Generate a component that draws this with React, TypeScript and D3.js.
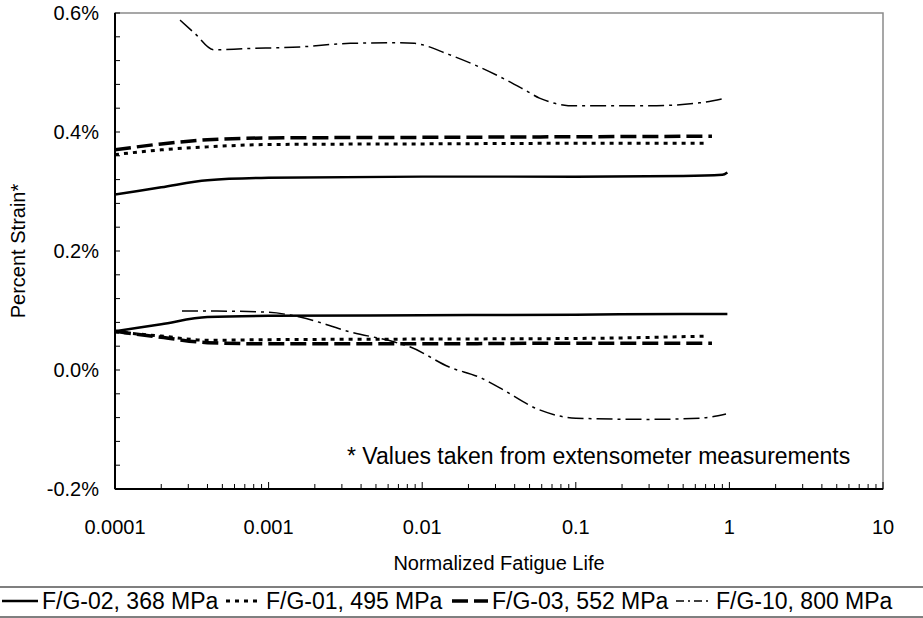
import React, { useEffect } from 'react';
import * as d3 from 'd3';

// ── Data (strain in %, life normalized) ────────────────────────────
const fg02Life = [0.0001, 0.0002, 0.0004, 0.001, 0.01, 0.1, 0.5, 0.9, 0.97];
const fg02Max = [0.295, 0.307, 0.319, 0.323, 0.325, 0.325, 0.326, 0.328, 0.332];
const fg02Min = [0.065, 0.077, 0.089, 0.091, 0.092, 0.093, 0.094, 0.094, 0.094];

const fg01Life = [0.0001, 0.0002, 0.0004, 0.001, 0.01, 0.1, 0.73];
const fg01Max = [0.362, 0.370, 0.375, 0.379, 0.380, 0.381, 0.381];
const fg01Min = [0.064, 0.057, 0.050, 0.051, 0.052, 0.053, 0.057];

const fg03Life = [0.0001, 0.0002, 0.0004, 0.001, 0.01, 0.1, 0.77];
const fg03Max = [0.370, 0.380, 0.387, 0.390, 0.391, 0.392, 0.393];
const fg03Min = [0.065, 0.055, 0.046, 0.044, 0.044, 0.045, 0.045];

const fg10MaxLife = [0.000265, 0.00033, 0.00044, 0.0007, 0.0016, 0.0034, 0.0072, 0.0089, 0.015, 0.032, 0.047, 0.058, 0.099, 0.3, 0.64, 0.95];
const fg10Max = [0.588, 0.566, 0.538, 0.540, 0.543, 0.549, 0.550, 0.549, 0.530, 0.493, 0.470, 0.457, 0.444, 0.444, 0.449, 0.457];
const fg10MinLife = [0.000273, 0.00044, 0.001, 0.0016, 0.0034, 0.0066, 0.0083, 0.015, 0.024, 0.032, 0.058, 0.1, 0.3, 0.64, 0.95];
const fg10Min = [0.099, 0.099, 0.097, 0.089, 0.064, 0.047, 0.039, 0.005, -0.013, -0.030, -0.067, -0.081, -0.083, -0.081, -0.074];

const xTicks = [0.0001, 0.001, 0.01, 0.1, 1, 10];
const xTickLabels = ['0.0001', '0.001', '0.01', '0.1', '1', '10'];
const yTicks = [-0.2, 0, 0.2, 0.4, 0.6];
const yTickLabels = ['-0.2%', '0.0%', '0.2%', '0.4%', '0.6%'];

const seriesNames = ['F/G-02, 368 MPa', 'F/G-01, 495 MPa', 'F/G-03, 552 MPa', 'F/G-10, 800 MPa'];

// ── Styles ─────────────────────────────────────────────────────────
const STYLES = [
  { width: 2.5, dash: 'none' },
  { width: 3, dash: '4,5' },
  { width: 3.5, dash: '16,6' },
  { width: 1.5, dash: '16,5,3,5' },
];

const W = 923;
const H = 618;
const mg = { left: 115, right: 40, top: 13, bottom: 129 };
const FONT = '"Liberation Sans", Arial, sans-serif';
const FS = 20;       // axes
const FS_NOTE = 23;  // note + legend

export default function App() {
  useEffect(() => {
    document.body.style.margin = '0';
  }, []);

  const x = d3.scaleLog().domain([0.0001, 10]).range([mg.left, W - mg.right]);
  const y = d3.scaleLinear().domain([-0.2, 0.6]).range([H - mg.bottom, mg.top]);
  const x0 = mg.left, x1 = W - mg.right, y0 = H - mg.bottom, y1 = mg.top;

  const line = d3.line<[number, number]>()
    .x(d => x(d[0]))
    .y(d => y(d[1]))
    .curve(d3.curveMonotoneX);

  const zip = (t: number[], v: number[]) => t.map((d, i) => [d, v[i]] as [number, number]);

  const curves = [
    { s: 0, pts: zip(fg02Life, fg02Max) },
    { s: 0, pts: zip(fg02Life, fg02Min) },
    { s: 1, pts: zip(fg01Life, fg01Max) },
    { s: 1, pts: zip(fg01Life, fg01Min) },
    { s: 2, pts: zip(fg03Life, fg03Max) },
    { s: 2, pts: zip(fg03Life, fg03Min) },
    { s: 3, pts: zip(fg10MaxLife, fg10Max) },
    { s: 3, pts: zip(fg10MinLife, fg10Min) },
  ];

  // minor ticks
  const xMinor: number[] = [];
  for (let e = -4; e < 1; e++) {
    for (let k = 2; k <= 9; k++) xMinor.push(k * Math.pow(10, e));
  }
  const yMinor = d3.range(-0.2, 0.6001, 0.04);

  // legend layout (text start x; sample drawn just before)
  const legendY = 601;
  const legendTextX = [42, 266, 492, 716];

  return (
    <svg width={W} height={H} style={{ display: 'block', fontFamily: FONT }}>
      <rect width={W} height={H} fill="#fff" />

      {/* plot area border */}
      <rect x={x0} y={y1} width={x1 - x0} height={y0 - y1} fill="none" stroke="#8a8a8a" strokeWidth={1.5} />

      <defs>
        <clipPath id="plotClip">
          <rect x={x0} y={y1} width={x1 - x0} height={y0 - y1} />
        </clipPath>
      </defs>

      {/* curves */}
      <g clipPath="url(#plotClip)">
        {curves.map((c, i) => (
          <path key={i} d={line(c.pts) || ''} fill="none" stroke="#000"
            strokeWidth={STYLES[c.s].width} strokeDasharray={STYLES[c.s].dash} />
        ))}
      </g>

      {/* y axis */}
      <line x1={x0} x2={x0} y1={y1} y2={y0} stroke="#000" strokeWidth={2} />
      {yMinor.map((v, i) => (
        <line key={i} x1={x0} x2={x0 + 5} y1={y(v)} y2={y(v)} stroke="#000" strokeWidth={1} />
      ))}
      {yTicks.map((v, i) => (
        <text key={i} x={x0 - 16} y={y(v)} dy="0.35em" textAnchor="end" fontSize={FS} fill="#000">
          {yTickLabels[i]}
        </text>
      ))}

      {/* x axis */}
      <line x1={x0} x2={x1} y1={y0} y2={y0} stroke="#000" strokeWidth={2} />
      {xMinor.map((v, i) => (
        <line key={i} x1={x(v)} x2={x(v)} y1={y0} y2={y0 - 5} stroke="#000" strokeWidth={1} />
      ))}
      {xTicks.map((v, i) => (
        <line key={'M' + i} x1={x(v)} x2={x(v)} y1={y0} y2={y0 - 7} stroke="#000" strokeWidth={1} />
      ))}
      {xTicks.map((v, i) => (
        <text key={'L' + i} x={x(v)} y={y0 + 45} textAnchor="middle" fontSize={FS} fill="#000">
          {xTickLabels[i]}
        </text>
      ))}

      {/* axis titles */}
      <text x={(x0 + x1) / 2} y={570} textAnchor="middle" fontSize={FS} fill="#000">
        Normalized Fatigue Life
      </text>
      <text transform={`translate(25,${(y0 + y1) / 2}) rotate(-90)`} textAnchor="middle" fontSize={FS} fill="#000">
        Percent Strain*
      </text>

      {/* note */}
      <text x={347} y={464} fontSize={FS_NOTE} fill="#000">
        * Values taken from extensometer measurements
      </text>

      {/* legend */}
      <rect x={-1} y={587} width={W + 2} height={30} fill="#fff" stroke="#000" strokeWidth={1} />
      {legendTextX.map((tx, i) => (
        <g key={i}>
          <line x1={tx - 40} x2={tx - 4} y1={legendY} y2={legendY} stroke="#000"
            strokeWidth={STYLES[i].width} strokeDasharray={i === 3 ? '8,4,2,4' : STYLES[i].dash} />
          <text x={tx} y={legendY} dy="0.35em" fontSize={FS_NOTE} fill="#000">
            {seriesNames[i]}
          </text>
        </g>
      ))}
    </svg>
  );
}
